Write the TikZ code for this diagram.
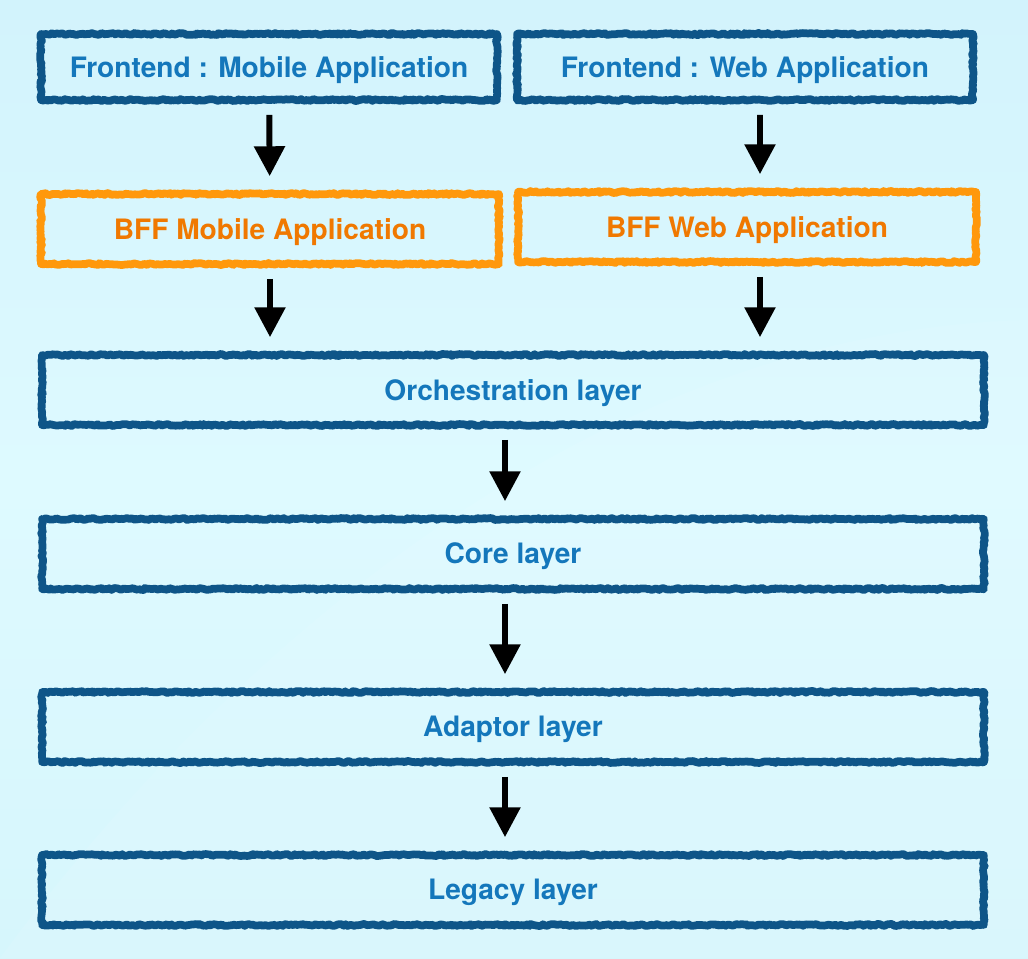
\documentclass[tikz,border=0pt]{standalone}
\usepackage{fontspec}
\setmainfont{TeX Gyre Heros}
\usetikzlibrary{arrows.meta,positioning,calc,decorations.pathmorphing}
\definecolor{Navy}{HTML}{0E5588}
\definecolor{Sky}{HTML}{1477BB}
\definecolor{Amber}{HTML}{FF980C}
\definecolor{Rust}{HTML}{F07800}
\definecolor{BgTop}{HTML}{D2F3FC}
\definecolor{BgMid}{HTML}{DEFAFF}
\definecolor{BgLow}{HTML}{D6F6FC}
\tikzset{
  >={Triangle[length=17pt,width=17pt]},
  box/.style={rectangle,draw=Navy,line width=4.4pt,line join=round,inner sep=0pt,
    decorate,decoration={random steps,segment length=1.2pt,amplitude=.55pt},
    font=\bfseries\fontsize{16}{19}\selectfont,text=Sky,text depth=.1ex},
  front/.style={box,minimum width=9.12cm,minimum height=1.32cm},
  bff/.style={box,draw=Amber,text=Rust,minimum width=9.16cm,minimum height=1.4cm},
  layer/.style={box,minimum width=18.84cm,minimum height=1.4cm},
  flow/.style={->,line width=3.4pt,draw=black,shorten <=.22cm,shorten >=.28cm}
}
\begin{document}
\begin{tikzpicture}[x=.02cm,y=-.02cm]
        \fill[top color=BgTop,bottom color=BgLow,middle color=BgMid] (0,0) rectangle (1028,958);
        \fill[white,opacity=.08] (0,958) .. controls (250,620) and (620,330) .. (1028,320) -- (1028,958) -- cycle;
        \node[front] (fm) at (269,67) {Frontend : Mobile Application};
        \node[front] (fw) at (745,67) {Frontend : Web Application};
        \node[bff] (bm) at (270,229) {BFF Mobile Application};
        \node[bff] (bw) at (747,227) {BFF Web Application};
        \node[layer] (orch) at (513,390) {Orchestration layer};
        \node[layer] (core) at (513,554) {Core layer};
        \node[layer] (adap) at (513,727) {Adaptor layer};
        \node[layer] (leg) at (513,890) {Legacy layer};
        \coordinate (bwo) at ([xshift=.26cm]bw.south);
        \draw[flow] (fm) -- (bm);
        \draw[flow] ([xshift=.3cm]fw.south) -- ([xshift=.26cm]bw.north);
        \draw[flow] (bm.south) -- (bm.south |- orch.north);
        \draw[flow] (bwo) -- (bwo |- orch.north);
        \draw[flow] ([xshift=-.16cm]orch.south) -- ([xshift=-.16cm]core.north);
        \draw[flow] ([xshift=-.16cm]core.south) -- ([xshift=-.16cm]adap.north);
        \draw[flow] ([xshift=-.16cm]adap.south) -- ([xshift=-.16cm]leg.north);
      \end{tikzpicture}
\end{document}
